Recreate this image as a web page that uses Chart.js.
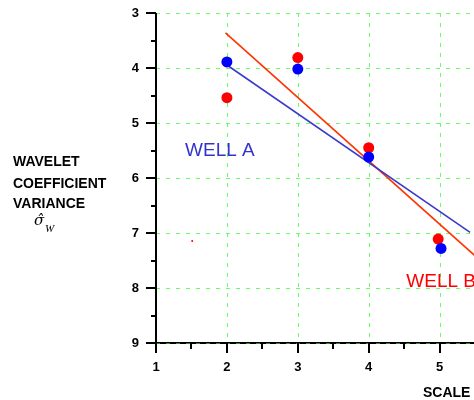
<!DOCTYPE html>
<html>
<head>
<meta charset="utf-8">
<script src="https://cdn.jsdelivr.net/npm/chart.js@4/dist/chart.umd.min.js"></script>
<style>
  html, body { margin: 0; padding: 0; background: #ffffff; overflow: hidden; }
  #wrap { width: 474px; height: 400px; }
</style>
</head>
<body>
<div id="wrap"><canvas id="c" width="474" height="400"></canvas></div>
<script>
// Wavelet coefficient variance against scale, two wells
const scaleA = [2, 3, 4, 5.02];
const varianceA = [3.89, 4.02, 5.62, 7.28];
const scaleB = [2, 3, 4, 4.98];
const varianceB = [4.54, 3.81, 5.45, 7.11];

// straight-line fits through each well's points
const fitScaleA = [2.0, 5.43];
const fitVarianceA = [3.945, 6.99];
const fitScaleB = [1.98, 5.6];
const fitVarianceB = [3.36, 7.53];

// stray red mark
const strayScale = [1.51];
const strayVariance = [7.145];

const xTicks = [1, 2, 3, 4, 5];
const yTicks = [3, 4, 5, 6, 7, 8, 9];

const toXY = (xs, ys) => xs.map((x, i) => ({ x: x, y: ys[i] }));

const FONT = "'Liberation Sans', Arial, sans-serif";
const GRID = '#66ff66';

const axesPlugin = {
  id: 'axesPlugin',
  beforeDatasetsDraw(chart) {
    const ctx = chart.ctx;
    const xs = chart.scales.x, ys = chart.scales.y;
    const area = chart.chartArea;
    const L = Math.round(area.left), R = area.right, T = Math.round(area.top), B = Math.round(area.bottom);
    ctx.save();
    // dashed green grid
    ctx.strokeStyle = GRID;
    ctx.lineWidth = 1;
    ctx.setLineDash([4, 6]);
    xTicks.forEach(v => {
      if (v === xTicks[0]) return;
      const px = Math.round(xs.getPixelForValue(v)) + 0.5;
      ctx.beginPath(); ctx.moveTo(px, T); ctx.lineTo(px, B); ctx.stroke();
    });
    yTicks.forEach(v => {
      if (v === yTicks[yTicks.length - 1]) return;
      const py = Math.round(ys.getPixelForValue(v)) + 0.5;
      ctx.beginPath(); ctx.moveTo(L, py); ctx.lineTo(R, py); ctx.stroke();
    });
    ctx.setLineDash([]);
    // axis lines
    ctx.strokeStyle = '#000000';
    ctx.lineWidth = 2;
    ctx.beginPath(); ctx.moveTo(L, T); ctx.lineTo(L, B + 1); ctx.stroke();
    ctx.beginPath(); ctx.moveTo(L - 1, B); ctx.lineTo(R, B); ctx.stroke();
    // dashes over bottom axis
    ctx.strokeStyle = '#2f8f2f';
    ctx.lineWidth = 1;
    ctx.setLineDash([4, 6]);
    ctx.beginPath(); ctx.moveTo(L, B + 0.5); ctx.lineTo(R, B + 0.5); ctx.stroke();
    ctx.setLineDash([]);
    // tick marks: major at whole numbers, minor at halves
    ctx.strokeStyle = '#000000';
    ctx.lineWidth = 2;
    for (let v = yTicks[0]; v <= yTicks[yTicks.length - 1] + 1e-9; v += 0.5) {
      const py = Math.round(ys.getPixelForValue(v));
      const len = Number.isInteger(v) ? 10 : 5;
      ctx.beginPath(); ctx.moveTo(L - len, py); ctx.lineTo(L, py); ctx.stroke();
    }
    for (let v = xTicks[0]; v <= xs.max + 1e-9; v += 0.5) {
      const px = Math.round(xs.getPixelForValue(v));
      const len = Number.isInteger(v) ? 10 : 6;
      ctx.beginPath(); ctx.moveTo(px, B); ctx.lineTo(px, B + len); ctx.stroke();
    }
    ctx.restore();
  },
  afterDraw(chart) {
    const ctx = chart.ctx;
    const xs = chart.scales.x, ys = chart.scales.y;
    ctx.save();
    ctx.textBaseline = 'alphabetic';
    ctx.textAlign = 'left';
    // series labels
    ctx.font = '19px ' + FONT;
    ctx.fillStyle = '#3333cc';
    ctx.fillText('WELL A', xs.getPixelForValue(1.41), ys.getPixelForValue(5.6));
    ctx.fillStyle = '#ff0000';
    ctx.fillText('WELL B', xs.getPixelForValue(4.53), ys.getPixelForValue(7.98));
    // axis titles
    ctx.fillStyle = '#000000';
    ctx.font = 'bold 14px ' + FONT;
    ctx.fillText('SCALE', 423, 397);
    ctx.fillText('WAVELET', 13, 166);
    ctx.fillText('COEFFICIENT', 13, 188);
    ctx.fillText('VARIANCE', 13, 208);
    ctx.font = 'italic 15px "DejaVu Serif", "Liberation Serif", serif';
    ctx.fillText('\u03C3\u0302', 34, 225);
    ctx.font = 'italic 11px "Liberation Serif", serif';
    ctx.fillText('W', 45, 232);
    ctx.restore();
  }
};

new Chart(document.getElementById('c'), {
  type: 'scatter',
  data: {
    datasets: [
      { label: 'WELL A', data: toXY(scaleA, varianceA), backgroundColor: '#0000ff', borderColor: '#0000ff',
        pointRadius: 5.5, pointBorderWidth: 0, showLine: false },
      { label: 'WELL B', data: toXY(scaleB, varianceB), backgroundColor: '#ff0000', borderColor: '#ff0000',
        pointRadius: 5.5, pointBorderWidth: 0, showLine: false },
      { label: 'stray', data: toXY(strayScale, strayVariance), backgroundColor: '#ff0000', borderColor: '#ff0000',
        pointRadius: 1, pointBorderWidth: 0, showLine: false },
      { label: 'fit A', data: toXY(fitScaleA, fitVarianceA), borderColor: '#3a3acc', borderWidth: 1.6,
        pointRadius: 0, showLine: true, fill: false },
      { label: 'fit B', data: toXY(fitScaleB, fitVarianceB), borderColor: '#ff3300', borderWidth: 1.6,
        pointRadius: 0, showLine: true, fill: false }
    ]
  },
  options: {
    responsive: false,
    animation: false,
    events: [],
    layout: { autoPadding: false, padding: { left: 0, right: 0, top: 13, bottom: 0 } },
    plugins: { legend: { display: false }, tooltip: { enabled: false } },
    scales: {
      x: {
        type: 'linear', min: 1, max: 5.485,
        grid: { display: false, drawTicks: false },
        border: { display: false },
        ticks: { stepSize: 1, includeBounds: false, padding: 17, color: '#000000',
                 font: { family: FONT, size: 13, weight: 'bold' } },
        afterFit(s) { s.height = 57; s.paddingLeft = 0; s.paddingRight = 0; }
      },
      y: {
        type: 'linear', min: 3, max: 9, reverse: true,
        grid: { display: false, drawTicks: false },
        border: { display: false },
        ticks: { stepSize: 1, padding: 17, color: '#000000',
                 font: { family: FONT, size: 13, weight: 'bold' } },
        afterFit(s) { s.width = 156; s.paddingTop = 0; s.paddingBottom = 0; }
      }
    }
  },
  plugins: [axesPlugin]
});
</script>
</body>
</html>
